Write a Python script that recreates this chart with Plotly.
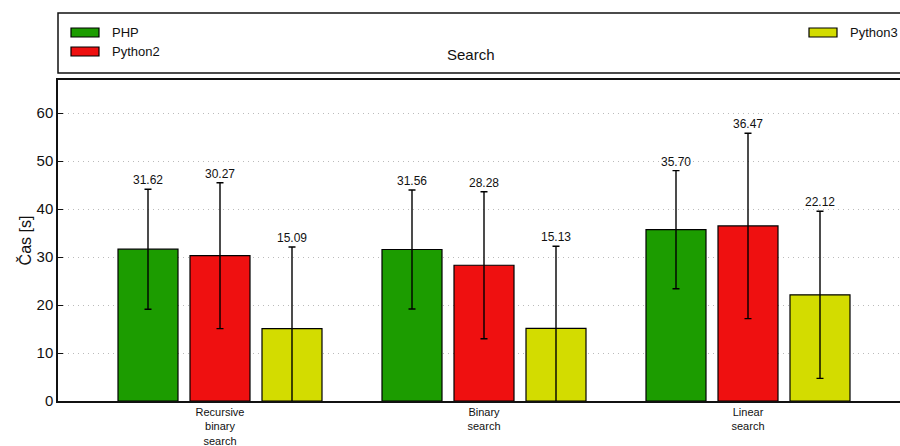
import plotly.graph_objects as go

# ---- data ----
categories = ["Recursive<br>binary<br>search", "Binary<br>search", "Linear<br>search"]
series_names = ["PHP", "Python2", "Python3"]
php_values = [31.62, 31.56, 35.70]
php_errors = [12.5, 12.4, 12.3]
py2_values = [30.27, 28.28, 36.47]
py2_errors = [15.2, 15.3, 19.3]
py3_values = [15.09, 15.13, 22.12]
py3_errors = [17.0, 17.1, 17.4]
y_ticks = [0, 10, 20, 30, 40, 50, 60]

# ---- layout geometry ----
W, H = 900, 446
L, R, T, B = 58, 0, 80, 45
plot_w = W - L - R
plot_h = H - T - B
cat_px = 264.0
x_range = [-162 / cat_px, -162 / cat_px + plot_w / cat_px]
y_range = [0, plot_h / 4.8]
offsets = [-72 / cat_px, 0, 72 / cat_px]
bar_w = 60 / cat_px
colors = ["#1c9c00", "#ef1010", "#d3dc00"]
FONT = "Liberation Sans, Arial, sans-serif"


def px(x, y):
    return (x - L) / plot_w, (H - B - y) / plot_h


fig = go.Figure()
all_vals = [php_values, py2_values, py3_values]
all_errs = [php_errors, py2_errors, py3_errors]
annotations = []
for s, (name, vals, errs, col) in enumerate(zip(series_names, all_vals, all_errs, colors)):
    xs = [i + offsets[s] for i in range(len(categories))]
    fig.add_trace(go.Bar(
        x=xs, y=vals, width=bar_w, name=name,
        marker=dict(color=col, line=dict(color="#000000", width=1.2)),
        error_y=dict(type="data", array=errs, visible=True, color="#000000",
                     thickness=1.4, width=3.5),
        showlegend=False,
    ))
    for x, v, e in zip(xs, vals, errs):
        annotations.append(dict(x=x, y=v + e, xref="x", yref="y", text=f"{v:.2f}",
                                showarrow=False, yanchor="bottom", yshift=0,
                                font=dict(family=FONT, size=12, color="#111111")))

shapes = []
# legend box
x0, y0 = px(58, 73)
x1, y1 = px(915, 13)
shapes.append(dict(type="rect", xref="paper", yref="paper", x0=x0, y0=y0, x1=x1, y1=y1,
                   line=dict(color="#111111", width=1.5), fillcolor="rgba(0,0,0,0)"))
legend_pos = [(71, 28), (71, 47), (809, 28)]
for name, col, (lx, ly) in zip(series_names, colors, legend_pos):
    a, b = px(lx, ly)
    c, d = px(lx + 28, ly + 9)
    shapes.append(dict(type="rect", xref="paper", yref="paper", x0=a, y0=d, x1=c, y1=b,
                       line=dict(color="#000000", width=1.2), fillcolor=col))
    tx, ty = px(lx + 39, ly + 4.5)
    annotations.append(dict(x=tx, y=ty, xref="paper", yref="paper", text=name,
                            showarrow=False, xanchor="left", yanchor="middle",
                            font=dict(family=FONT, size=13, color="#111111")))
tx, ty = px(471, 54)
annotations.append(dict(x=tx, y=ty, xref="paper", yref="paper", text="Search",
                        showarrow=False, xanchor="center", yanchor="middle",
                        font=dict(family=FONT, size=15, color="#111111")))

fig.update_layout(
    width=W, height=H,
    margin=dict(l=L, r=R, t=T, b=B, pad=0),
    paper_bgcolor="white", plot_bgcolor="white",
    barmode="overlay",
    font=dict(family=FONT, color="#111111"),
    annotations=annotations, shapes=shapes,
)
fig.update_xaxes(range=x_range, tickmode="array",
                 tickvals=list(range(len(categories))), ticktext=categories,
                 ticks="", showgrid=False, zeroline=False, automargin=False,
                 showline=True, linecolor="#111111", linewidth=1.5, mirror=True,
                 tickfont=dict(family=FONT, size=11, color="#111111"))
fig.update_yaxes(range=y_range, tickmode="array", tickvals=y_ticks,
                 ticks="inside", ticklen=5, tickcolor="#111111", automargin=False,
                 showgrid=True, gridcolor="#bbbbbb", griddash="1px,4px", gridwidth=1,
                 zeroline=False, showline=True, linecolor="#111111", linewidth=1.5,
                 tickfont=dict(family=FONT, size=15, color="#111111"),
                 title=dict(text="Čas [s]", font=dict(family=FONT, size=16, color="#111111"),
                            standoff=1))

fig.write_html("out.html", config={"displayModeBar": False},
               post_script="document.body.style.margin='0px';")
